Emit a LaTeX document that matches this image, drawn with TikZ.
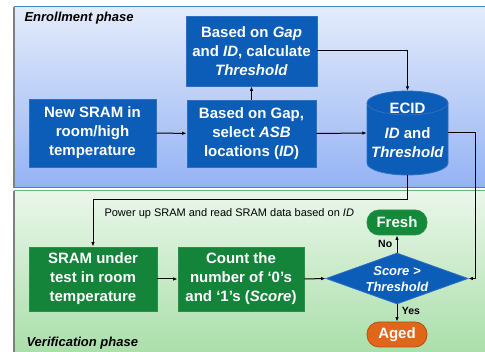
\documentclass[tikz,border=0pt]{standalone}
\usepackage{fontspec}
\setmainfont{Liberation Sans}
\usetikzlibrary{shapes.geometric,arrows.meta}
\definecolor{bluebox}{HTML}{0B5DB8}
\definecolor{blueedge}{HTML}{2E6FC4}
\definecolor{greenbox}{HTML}{14843A}
\definecolor{greenedge}{HTML}{2A9048}
\definecolor{freshgreen}{HTML}{128A3A}
\definecolor{agedorange}{HTML}{E0661A}
\definecolor{agededge}{HTML}{B85010}
\definecolor{topA}{HTML}{E4ECFA}
\definecolor{topB}{HTML}{94B2F4}
\definecolor{botA}{HTML}{EAF6EA}
\definecolor{botB}{HTML}{A8DEA8}
\definecolor{topline}{HTML}{4F81D0}
\definecolor{botline}{HTML}{6BB57B}
\tikzset{
  boxtext/.style={text=white, font=\bfseries\fontsize{15}{19}\selectfont, align=center},
  bluestep/.style={boxtext, rectangle, fill=bluebox, draw=blueedge, line width=0.8pt, inner sep=0pt},
  greenstep/.style={boxtext, rectangle, fill=greenbox, draw=greenedge, line width=0.8pt, inner sep=0pt, minimum height=64pt},
  endstate/.style={boxtext, rounded corners=12pt, minimum width=60pt, minimum height=25pt, inner sep=0pt, line width=0.8pt},
  conn/.style={line width=1pt, -{Latex[length=4.5pt,width=3.5pt]}},
  phase/.style={font=\bfseries\itshape\fontsize{13}{15}\selectfont, anchor=west},
  small/.style={font=\bfseries\fontsize{10.5}{12}\selectfont}
}
\begin{document}
\begin{tikzpicture}[x=1pt,y=-1pt]
\useasboundingbox (0,0) rectangle (485,352);
% panels
\shade[top color=topA, bottom color=topB] (14,7) rectangle (490,188);
\draw[topline, line width=1pt] (14,7) rectangle (490,188);
\shade[top color=botA, bottom color=botB] (14,191) rectangle (490,358);
\draw[botline, line width=1pt] (14,191) rectangle (490,358);
\draw[gray, line width=1.2pt] (14,7) -- (14,188) (14,191) -- (14,352);
\node[phase] (enr) at (21,18) {Enrollment phase};
\node[phase] (ver) at (23,343) {Verification phase};
% enrollment
\node[bluestep, minimum width=127pt, minimum height=68pt] (sram) at (92.5,133) {New SRAM in\\room/high\\temperature};
\node[bluestep, minimum width=129pt, minimum height=67pt] (asb) at (251.5,133.5) {Based on Gap,\\select \textit{ASB}\\locations (\textit{ID})};
\node[bluestep, minimum width=131pt, minimum height=70pt] (calc) at (251.5,51) {Based on \textit{Gap}\\and \textit{ID}, calculate\\\textit{Threshold}};
% cylinder
\fill[bluebox] (367,103) -- (367,163) arc[start angle=180,end angle=360,x radius=40.5pt,y radius=12pt] -- (448,103) arc[start angle=0,end angle=180,x radius=40.5pt,y radius=12pt] -- cycle;
\draw[blueedge, line width=0.8pt] (367,103) -- (367,163) arc[start angle=180,end angle=360,x radius=40.5pt,y radius=12pt] -- (448,103);
\draw[blueedge, line width=0.8pt] (407.5,103) ellipse[x radius=40.5pt,y radius=12pt];
\node[minimum width=81pt, minimum height=84pt, inner sep=0pt] (ecid) at (407.5,133) {};
\node[boxtext] (ecidt) at (407.5,108) {ECID};
\node[boxtext] (ecidv) at (407.5,143) {\textit{ID} and\\\textit{Threshold}};
% verification
\node[greenstep, minimum width=128pt] (test) at (93,279) {SRAM under\\test in room\\temperature};
\node[greenstep, minimum width=126pt] (count) at (241,279) {Count the\\number of ‘0’s\\and ‘1’s (\textit{Score})};
\node[diamond, fill=bluebox, draw=blueedge, line width=0.8pt, minimum width=142pt, minimum height=51pt, inner sep=0pt] (dia) at (397,278.5) {};
\node[text=white, font=\bfseries\itshape\fontsize{13}{16}\selectfont, align=center] (diat) at (397,279) {Score >\\Threshold};
\node[endstate, fill=freshgreen, draw=greenedge] (fresh) at (397,222.5) {Fresh};
\node[endstate, fill=agedorange, draw=agededge] (aged) at (397,334.5) {Aged};
\coordinate (rt) at (475,133);
\coordinate (rb) at (475,278.5);
\coordinate (lb) at (407.5,200);
\coordinate (lt) at (93,200);
% connectors
\draw[conn] (sram) -- (asb);
\draw[conn] (asb) -- (calc);
\draw[conn] (calc.east) -| (ecid.north);
\draw[conn] (asb.east) -- (ecid.west);
\draw[conn] (ecid.east) -- (rt) -- (rb) -- (dia.east);
\draw[conn] (ecid.south) -- (lb) -- (lt) -- (test.north);
\draw[conn] (test) -- (count);
\draw[conn] (count.east) -- (dia.west);
\draw[conn] (dia.north) -- (fresh.south) node[pos=0.5, left=1pt, small] {No};
\draw[conn] (dia.south) -- (aged.north) node[pos=0.4, right=1pt, small] {Yes};
\node[font=\fontsize{11}{13}\selectfont, anchor=west] (pwr) at (101,214) {Power up SRAM and read SRAM data based on \textit{ID}};
\end{tikzpicture}
\end{document}
